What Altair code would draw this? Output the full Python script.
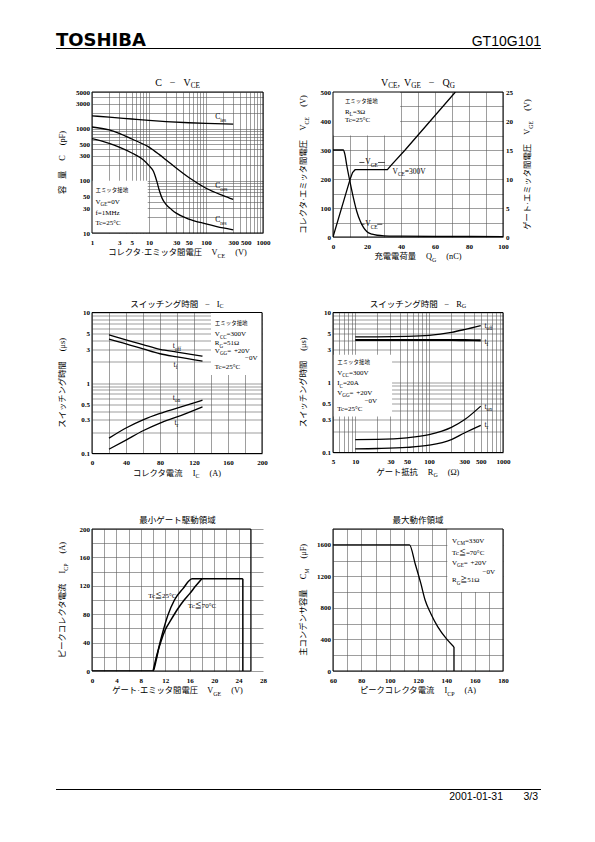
import json
import re
import altair as alt
import pandas as pd

SERIF = "Liberation Serif, Noto Sans CJK JP"
JPF = "Noto Sans CJK JP"

# ---------------- page furniture ----------------
maker = "TOSHIBA"
part_no = "GT10G101"
footer_date = "2001-01-31"
footer_page = "3/3"

# ---------------- Panel 1 : C - VCE ----------------
p1_title = "C  −  V_{CE}"
p1_xtitle = "コレクタ·エミッタ間電圧   V_{CE}   (V)"
p1_ytitle = "容  量   C   (pF)"
p1_xgrid = [m * 10 ** e for e in range(0, 3) for m in range(1, 10)] + [1000]
p1_xlab = [1, 3, 5, 10, 30, 50, 100, 300, 500, 1000]
p1_ygrid = [m * 10 ** e for e in range(1, 4) for m in range(1, 10)] + [1000 * m for m in range(1, 6)]
p1_ylab = [10, 30, 50, 100, 300, 500, 1000, 3000, 5000]
cies_x = [1, 2, 5, 10, 20, 50, 100, 300]
cies_y = [1750, 1650, 1520, 1430, 1360, 1290, 1250, 1210]
coes_x = [1, 2, 3, 5, 10, 15, 20, 30, 50, 100, 200, 300]
coes_y = [1070, 940, 810, 630, 440, 320, 250, 175, 115, 72, 52, 44]
cres_x = [1, 2, 3, 5, 8, 10, 12, 13, 14, 15, 17, 20, 25, 30, 50, 100, 200, 300]
cres_y = [640, 520, 440, 340, 250, 195, 150, 118, 90, 68, 46, 35, 28, 24, 18.5, 15, 12.5, 11.5]
p1_curve_labels = ["C_{ies}", "C_{oes}", "C_{res}"]
p1_curve_lx = [145, 145, 145]
p1_curve_ly = [1650, 78, 17.5]
p1_box = [1, 9.5, 10, 100]
p1_box_lines = ["エミッタ接地", "V_{GE}=0V", "f=1MHz", "Tc=25°C"]
p1_box_lx = [1.15, 1.15, 1.15, 1.15]
p1_box_ly = [66, 40, 24.5, 15.5]

# ---------------- Panel 2 : VCE, VGE - QG ----------------
p2_title = "V_{CE}, V_{GE}  −  Q_{G}"
p2_xtitle = "充電電荷量   Q_{G}   (nC)"
p2_ytitle = "コレクタ·エミッタ間電圧   V_{CE}   (V)"
p2_y2title = "ゲート·エミッタ間電圧   V_{GE}   (V)"
p2_xgrid = list(range(0, 101, 10))
p2_xlab = [0, 20, 40, 60, 80, 100]
p2_ygrid = list(range(0, 501, 50))
p2_ylab = [0, 100, 200, 300, 400, 500]
p2_y2lab = [0, 5, 10, 15, 20, 25]
vce_q = [0, 6, 7, 8, 10, 12, 14, 16, 18, 20, 23, 26, 30, 40, 60, 100]
vce_v = [300, 300, 285, 250, 190, 135, 88, 55, 32, 18, 10, 6, 4, 3, 2, 1.5]
vge_q = [0, 10, 11.5, 13, 32, 34, 42.4, 72]
vge_v = [0, 9.9, 11.1, 11.6, 11.6, 12.3, 15, 25]
p2_curve_labels = ["V_{GE}", "V_{CE}=300V", "V_{CE}"]
p2_curve_lx = [19, 35, 19]
p2_curve_ly = [257, 224, 44]
p2_leader_x = [15.5, 18.5, 26.5, 30.5, 16.5, 18.5, 26, 29]
p2_leader_y = [257, 257, 257, 257, 44, 44, 44, 44]
p2_leader_id = ["a", "a", "b", "b", "c", "c", "d", "d"]
p2_box = [0, 39.5, 350, 500]
p2_box_lines = ["エミッタ接地", "R_{L}=3Ω", "Tc=25°C"]
p2_box_lx = [7, 7, 7]
p2_box_ly = [470, 432, 404]

# ---------------- Panel 3 : switching time - IC ----------------
p3_title = "スイッチング時間  −  I_{C}"
p3_xtitle = "コレクタ電流   I_{C}   (A)"
p3_ytitle = "スイッチング時間   (μs)"
p3_xgrid = list(range(0, 201, 20))
p3_xlab = [0, 40, 80, 120, 160, 200]
t_grid = [round(m * 10.0 ** e, 3) for e in range(-1, 1) for m in range(1, 10)] + [10]
t_lab = [0.1, 0.3, 0.5, 1, 3, 5, 10]
p3_ic = [20, 40, 60, 80, 100, 130]
p3_toff = [4.8, 4.1, 3.5, 3.0, 2.75, 2.4]
p3_tf = [4.2, 3.6, 3.05, 2.6, 2.35, 2.05]
p3_ton = [0.165, 0.23, 0.30, 0.37, 0.44, 0.57]
p3_tr = [0.115, 0.155, 0.21, 0.27, 0.33, 0.46]
p3_curve_labels = ["t_{off}", "t_{f}", "t_{on}", "t_{r}"]
p3_curve_lx = [95, 96, 95, 97]
p3_curve_ly = [3.3, 1.8, 0.62, 0.27]
p3_box = [140, 200, 1.3, 10]
p3_box_lines = ["エミッタ接地", "V_{CC}=300V", "R_{G}=51Ω", "V_{GG}= +20V", "−0V", "Tc=25°C"]
p3_box_lx = [144.5, 144.5, 144.5, 144.5, 180, 144.5]
p3_box_ly = [7.0, 4.9, 3.65, 2.88, 2.24, 1.67]

# ---------------- Panel 4 : switching time - RG ----------------
p4_title = "スイッチング時間  −  R_{G}"
p4_xtitle = "ゲート抵抗   R_{G}   (Ω)"
p4_ytitle = "スイッチング時間   (μs)"
p4_xgrid = [5, 6, 7, 8, 9] + [m * 10 ** e for e in range(1, 3) for m in range(1, 10)] + [1000]
p4_xlab = [5, 10, 30, 50, 100, 300, 500, 1000]
p4_rg = [10, 20, 50, 100, 200, 300, 500]
p4_toff = [4.5, 4.5, 4.55, 4.7, 5.2, 5.7, 6.5]
p4_tf = [4.05, 4.05, 4.05, 4.05, 4.05, 4.03, 4.0]
p4_ton = [0.153, 0.154, 0.162, 0.18, 0.228, 0.293, 0.46]
p4_tr = [0.113, 0.114, 0.118, 0.127, 0.153, 0.19, 0.244]
p4_curve_labels = ["t_{off}", "t_{f}", "t_{on}", "t_{r}"]
p4_curve_lx = [560, 560, 560, 560]
p4_curve_ly = [6.4, 3.85, 0.45, 0.25]
p4_box = [5, 31.5, 0.327, 2.5]
p4_box_lines = ["エミッタ接地", "V_{CC}=300V", "I_{C}=20A", "V_{GG}= +20V", "−0V", "Tc=25°C"]
p4_box_lx = [5.7, 5.7, 5.7, 5.7, 13.4, 5.7]
p4_box_ly = [1.96, 1.37, 0.97, 0.71, 0.545, 0.415]

# ---------------- Panel 5 : minimum gate drive area ----------------
p5_title = "最小ゲート駆動領域"
p5_xtitle = "ゲート·エミッタ間電圧   V_{GE}   (V)"
p5_ytitle = "ピークコレクタ電流   I_{CP}   (A)"
p5_xgrid = list(range(0, 29, 2))
p5_xlab = [0, 4, 8, 12, 16, 20, 24, 28]
p5_ygrid = list(range(0, 201, 20))
p5_ylab = [0, 40, 80, 120, 160, 200]
tc25_v = [0, 10, 10.5, 11, 11.6, 12.4, 13.5, 14.9, 16.4, 24.7]
tc25_i = [0, 0, 15, 35, 55, 78, 100, 116, 130, 130]
tc25_edge_v = [24.7, 24.7]
tc25_edge_i = [130, 0]
tc70_v = [10, 10.6, 11.3, 12, 13, 14, 15, 16, 17, 18]
tc70_i = [0, 22, 42, 58, 73, 87, 99, 109, 120, 130]
p5_frame = [0, 26, 0, 200]
p5_curve_labels = ["Tc≦25°C", "Tc≦70°C"]
p5_curve_lx = [13.4, 15.7]
p5_curve_ly = [105, 91]
p5_curve_align = ["right", "left"]

# ---------------- Panel 6 : maximum operating area ----------------
p6_title = "最大動作領域"
p6_xtitle = "ピークコレクタ電流   I_{CP}   (A)"
p6_ytitle = "主コンデンサ容量   C_{M}   (μF)"
p6_xgrid = list(range(60, 181, 10))
p6_xlab = [60, 80, 100, 120, 140, 160, 180]
p6_ygrid = list(range(0, 1801, 200))
p6_ylab = [0, 400, 800, 1200, 1600]
cm_icp = [60, 114, 118, 122, 125, 129, 134, 140, 145.4]
cm_uf = [1600, 1600, 1360, 1110, 900, 730, 560, 410, 305]
cm_edge_icp = [145.4, 145.4]
cm_edge_uf = [305, 0]
p6_box = [140.7, 180, 1000, 1800]
p6_box_lines = ["V_{CM}=330V", "Tc≦=70°C", "V_{GE}= +20V", "−0V", "R_{G}≧51Ω"]
p6_box_lx = [144, 144, 144, 165.5, 144]
p6_box_ly = [1650, 1490, 1370, 1260, 1150]

# =============== helpers ===============
WID = {'A': .722, 'B': .667, 'C': .667, 'D': .722, 'E': .611, 'F': .556, 'G': .722, 'H': .722,
       'I': .333, 'L': .611, 'M': .889, 'N': .722, 'O': .722, 'P': .556, 'Q': .722, 'R': .667,
       'S': .556, 'T': .611, 'V': .722, 'a': .444, 'c': .444, 'e': .444, 'f': .333, 'i': .278,
       'n': .5, 'o': .5, 'r': .333, 's': .389, 't': .278, 'z': .444, '=': .564, '+': .564,
       '−': .564, '-': .333, ' ': .25, '°': .4, 'Ω': .768, '≦': .55, '≧': .55, '(': .333,
       ')': .333, '.': .25, ',': .25, '·': .25, 'μ': .5}


def text_width(s, size):
    return sum(1.0 if ord(c) >= 0x3000 else WID.get(c, 0.5) for c in s) * size


def parse(s):
    segs, buf, i = [], '', 0
    while i < len(s):
        if s[i] == '_' and i + 1 < len(s) and s[i + 1] == '{':
            if buf:
                segs.append((buf, False))
                buf = ''
            j = s.index('}', i)
            segs.append((s[i + 2:j], True))
            i = j + 1
        else:
            buf += s[i]
            i += 1
    if buf:
        segs.append((buf, False))
    return segs


def layout(s, size):
    pieces, off = [], 0.0
    for t, b in parse(s):
        fs = round(size * 0.72, 2) if b else size
        for part in re.split(r'( +)', t):
            if not part:
                continue
            if part.strip():
                pieces.append((part, fs, b, off))
                off += text_width(part, fs)
            else:
                off += len(part) * 0.4 * size
    return pieces, off


def rich(s, X=None, Y=None, x=None, y=None, px=None, py=None, size=7.0, align='left',
         angle=0, font=SERIF):
    pieces, total = layout(s, size)
    start = {'left': 0, 'center': -total / 2, 'right': -total}[align]
    out = []
    for t, fs, b, off in pieces:
        mk = dict(align='left', baseline='middle', dx=start + off, dy=(size * 0.32 if b else 0),
                  fontSize=fs, font=font, color='black')
        if angle:
            mk['angle'] = angle
        if X is not None:
            df = pd.DataFrame({'x': [x], 'y': [y], 't': [t]})
            out.append(alt.Chart(df).mark_text(**mk).encode(x=X('x'), y=Y('y'), text='t:N'))
        else:
            df = pd.DataFrame({'t': [t]})
            out.append(alt.Chart(df).mark_text(**mk).encode(
                x=alt.value(px), y=alt.value(py), text='t:N'))
    return out


def texts(lines, xs, ys, X, Y, size=7.0, aligns=None):
    out = []
    for k, (s, x, y) in enumerate(zip(lines, xs, ys)):
        cjk = all(ord(c) >= 0x3000 for c in s)
        out += rich(s, X, Y, x, y, size=(size * 0.78 if cjk else size),
                    align=(aligns[k] if aligns else 'left'), font=(JPF if cjk else SERIF))
    return out


def decorations(W, H, title, tsize, xtitle, ytitle, y2title=None):
    out = rich(title, px=W / 2, py=-9, size=tsize, align='center')
    out += rich(xtitle, px=W / 2, py=H + 20, size=8.3, align='center')
    out += rich(ytitle, px=-29, py=H / 2, size=8.3, align='center', angle=270)
    if y2title:
        out += rich(y2title, px=W + 25, py=H / 2, size=8.3, align='center', angle=270)
    return out


def axis(values, labels, orient, grid=True, extra=None):
    expr = "indexof(%s, datum.value) >= 0 ? datum.label : ''" % json.dumps(labels)
    kw = dict(values=values, labelExpr=expr, format='.6~g', title=None, orient=orient,
              grid=grid, ticks=False, tickSize=0, domain=False, labelOverlap=False,
              labelFlush=False, labelFont=SERIF, labelFontSize=7, labelFontWeight='bold',
              labelColor='black', gridColor='#5c5c5c', gridWidth=0.6)
    kw['labelPadding'] = 2.5 if orient in ('left', 'right') else 5
    if extra:
        kw.update(extra)
    return alt.Axis(**kw)


def enc(channel, scale, ax):
    def f(field):
        return channel(field, type='quantitative', scale=scale, axis=ax)
    return f


def curve(xs, ys, X, Y, interp='monotone', w=1.3):
    df = pd.DataFrame({'x': xs, 'y': ys, 'i': list(range(len(xs)))})
    return alt.Chart(df).mark_line(color='black', strokeWidth=w, interpolate=interp,
                                   clip=True).encode(x=X('x'), y=Y('y'), order='i:Q')


def leaders(xs, ys, ids, X, Y):
    df = pd.DataFrame({'x': xs, 'y': ys, 'g': ids})
    return alt.Chart(df).mark_line(color='black', strokeWidth=0.7).encode(
        x=X('x'), y=Y('y'), detail='g:N')


def rect(b, X, Y, frame=False):
    df = pd.DataFrame({'x0': [b[0]], 'x1': [b[1]], 'y0': [b[2]], 'y1': [b[3]]})
    if frame:
        m = alt.Chart(df).mark_rect(fill='white', fillOpacity=0, stroke='black', strokeWidth=1)
    else:
        m = alt.Chart(df).mark_rect(color='white')
    return m.encode(x=X('x0'), x2=alt.X2('x1'), y=Y('y0'), y2=alt.Y2('y1'))


one = pd.DataFrame({'a': [0]})
HW = 449     # header / footer span to the right of the first column's plot edge

# page header, drawn in panel 1's pixel space (panel top is at page y = 91)
header_layers = [
    alt.Chart(one).mark_rule(color='white', strokeWidth=0.5).encode(
        x=alt.value(-36), x2=alt.value(HW), y=alt.value(-64)),
    alt.Chart(pd.DataFrame({'t': [maker]})).mark_text(
        align='left', baseline='alphabetic', font='DejaVu Sans', fontWeight='bold',
        fontSize=18, color='black').encode(x=alt.value(-36), y=alt.value(-46.5), text='t:N'),
    alt.Chart(pd.DataFrame({'t': [part_no]})).mark_text(
        align='right', baseline='alphabetic', font='Liberation Sans', fontSize=14,
        color='black').encode(x=alt.value(HW), y=alt.value(-46.5), text='t:N'),
    alt.Chart(one).mark_rule(color='black', strokeWidth=1.2).encode(
        x=alt.value(-36), x2=alt.value(HW), y=alt.value(-43.5)),
]
# page footer, drawn in panel 5's pixel space (panel top is at page y = 528)
footer_layers = [
    alt.Chart(one).mark_rule(color='black', strokeWidth=1.2).encode(
        x=alt.value(-36), x2=alt.value(HW), y=alt.value(260.5)),
    alt.Chart(pd.DataFrame({'t': [footer_date]})).mark_text(
        align='right', baseline='alphabetic', font='Liberation Sans', fontSize=10.5,
        color='black').encode(x=alt.value(411), y=alt.value(271), text='t:N'),
    alt.Chart(pd.DataFrame({'t': [footer_page]})).mark_text(
        align='right', baseline='alphabetic', font='Liberation Sans', fontSize=10.5,
        color='black').encode(x=alt.value(446), y=alt.value(271), text='t:N'),
]

# =============== Panel 1 ===============
W1, H1 = 171, 141
X1 = enc(alt.X, alt.Scale(type='log', domain=[1, 1000], nice=False), axis(p1_xgrid, p1_xlab, 'bottom'))
Y1 = enc(alt.Y, alt.Scale(type='log', domain=[10, 5000], nice=False), axis(p1_ygrid, p1_ylab, 'left'))
p1_layers = [rect(p1_box, X1, Y1)]
p1_layers += texts(p1_box_lines, p1_box_lx, p1_box_ly, X1, Y1, size=7)
p1_layers += [curve(cies_x, cies_y, X1, Y1), curve(coes_x, coes_y, X1, Y1),
              curve(cres_x, cres_y, X1, Y1)]
p1_layers += texts(p1_curve_labels, p1_curve_lx, p1_curve_ly, X1, Y1, size=7.5)
p1_layers += [rect([1, 1000, 10, 5000], X1, Y1, frame=True)]
p1_layers += decorations(W1, H1, p1_title, 10, p1_xtitle, p1_ytitle)
p1_layers += header_layers
p1 = alt.layer(*p1_layers).properties(width=W1, height=H1)

# =============== Panel 2 ===============
W2, H2 = 170, 145
X2 = enc(alt.X, alt.Scale(domain=[0, 100], nice=False, zero=False), axis(p2_xgrid, p2_xlab, 'bottom'))
Y2 = enc(alt.Y, alt.Scale(domain=[0, 500], nice=False), axis(p2_ygrid, p2_ylab, 'left'))
Y2R = enc(alt.Y, alt.Scale(domain=[0, 25], nice=False), axis(p2_y2lab, p2_y2lab, 'right', grid=False))
p2_left = [rect(p2_box, X2, Y2)]
p2_left += texts(p2_box_lines, p2_box_lx, p2_box_ly, X2, Y2, size=7)
p2_left += [curve(vce_q, vce_v, X2, Y2)]
p2_left += texts(p2_curve_labels, p2_curve_lx, p2_curve_ly, X2, Y2, size=7.5)
p2_left += [leaders(p2_leader_x, p2_leader_y, p2_leader_id, X2, Y2)]
p2_left += [rect([0, 100, 0, 500], X2, Y2, frame=True)]
p2_left += decorations(W2, H2, p2_title, 10, p2_xtitle, p2_ytitle, p2_y2title)
p2 = alt.layer(alt.layer(*p2_left), curve(vge_q, vge_v, X2, Y2R, interp='linear')).resolve_scale(
    y='independent').properties(width=W2, height=H2)

# =============== Panel 3 ===============
W3, H3 = 170, 141
X3 = enc(alt.X, alt.Scale(domain=[0, 200], nice=False, zero=False), axis(p3_xgrid, p3_xlab, 'bottom'))
Y3 = enc(alt.Y, alt.Scale(type='log', domain=[0.1, 10], nice=False), axis(t_grid, t_lab, 'left'))
p3_layers = [rect(p3_box, X3, Y3)]
p3_layers += texts(p3_box_lines, p3_box_lx, p3_box_ly, X3, Y3, size=7)
p3_layers += [curve(p3_ic, p3_toff, X3, Y3), curve(p3_ic, p3_tf, X3, Y3),
              curve(p3_ic, p3_ton, X3, Y3), curve(p3_ic, p3_tr, X3, Y3)]
p3_layers += texts(p3_curve_labels, p3_curve_lx, p3_curve_ly, X3, Y3, size=7.5)
p3_layers += [rect([0, 200, 0.1, 10], X3, Y3, frame=True)]
p3_layers += decorations(W3, H3, p3_title, 8.5, p3_xtitle, p3_ytitle)
p3 = alt.layer(*p3_layers).properties(width=W3, height=H3)

# =============== Panel 4 ===============
W4, H4 = 170, 140
X4 = enc(alt.X, alt.Scale(type='log', domain=[5, 1000], nice=False), axis(p4_xgrid, p4_xlab, 'bottom'))
Y4 = enc(alt.Y, alt.Scale(type='log', domain=[0.1, 10], nice=False), axis(t_grid, t_lab, 'left'))
p4_layers = [rect(p4_box, X4, Y4)]
p4_layers += texts(p4_box_lines, p4_box_lx, p4_box_ly, X4, Y4, size=7)
p4_layers += [curve(p4_rg, p4_toff, X4, Y4), curve(p4_rg, p4_tf, X4, Y4, w=2.2),
              curve(p4_rg, p4_ton, X4, Y4), curve(p4_rg, p4_tr, X4, Y4)]
p4_layers += texts(p4_curve_labels, p4_curve_lx, p4_curve_ly, X4, Y4, size=7.5)
p4_layers += [rect([5, 1000, 0.1, 10], X4, Y4, frame=True)]
p4_layers += decorations(W4, H4, p4_title, 8.5, p4_xtitle, p4_ytitle)
p4 = alt.layer(*p4_layers).properties(width=W4, height=H4)

# =============== Panel 5 ===============
W5, H5 = 171, 142
X5 = enc(alt.X, alt.Scale(domain=[0, 28], nice=False, zero=False),
         axis(p5_xgrid, p5_xlab, 'bottom',
              extra={'gridOpacity': {'condition': {'test': 'datum.value > 26', 'value': 0},
                                     'value': 1}}))
Y5 = enc(alt.Y, alt.Scale(domain=[0, 200], nice=False), axis(p5_ygrid, p5_ylab, 'left'))
p5_layers = [curve(tc25_v, tc25_i, X5, Y5, w=1.5),
             curve(tc25_edge_v, tc25_edge_i, X5, Y5, interp='linear', w=1.5),
             curve(tc70_v, tc70_i, X5, Y5, w=1.5)]
p5_layers += texts(p5_curve_labels, p5_curve_lx, p5_curve_ly, X5, Y5, size=7,
                   aligns=p5_curve_align)
p5_layers += [rect(p5_frame, X5, Y5, frame=True)]
p5_layers += decorations(W5, H5, p5_title, 8.5, p5_xtitle, p5_ytitle)
p5_layers += footer_layers
p5 = alt.layer(*p5_layers).properties(width=W5, height=H5)

# =============== Panel 6 ===============
W6, H6 = 170, 142
X6 = enc(alt.X, alt.Scale(domain=[60, 180], nice=False, zero=False), axis(p6_xgrid, p6_xlab, 'bottom'))
Y6 = enc(alt.Y, alt.Scale(domain=[0, 1800], nice=False), axis(p6_ygrid, p6_ylab, 'left'))
p6_layers = [rect(p6_box, X6, Y6)]
p6_layers += texts(p6_box_lines, p6_box_lx, p6_box_ly, X6, Y6, size=7)
p6_layers += [curve(cm_icp, cm_uf, X6, Y6), curve(cm_edge_icp, cm_edge_uf, X6, Y6, interp='linear')]
p6_layers += [rect([60, 180, 0, 1800], X6, Y6, frame=True)]
p6_layers += decorations(W6, H6, p6_title, 8.5, p6_xtitle, p6_ytitle)
p6 = alt.layer(*p6_layers).properties(width=W6, height=H6)

chart = alt.concat(p1, p2, p3, p4, p5, p6, columns=2, bounds='flush',
                   spacing={'row': 75.5, 'column': 70}).properties(
    padding={'left': 47, 'top': 19, 'right': 5, 'bottom': 5},
    background='white'
).configure_view(stroke=None)

chart.save("out.html", embed_options={"renderer": "svg", "actions": False})
